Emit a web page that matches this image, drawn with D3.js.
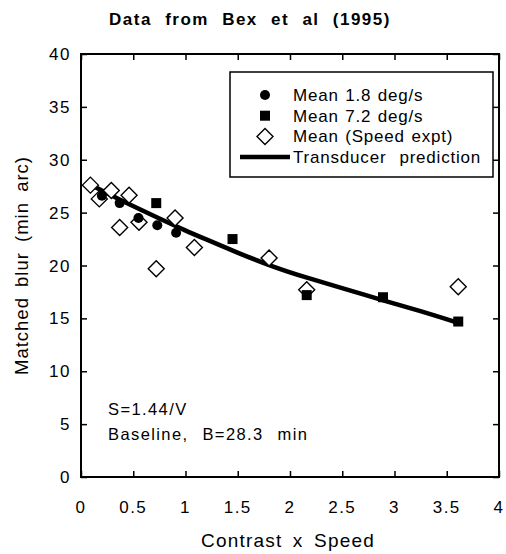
<!DOCTYPE html>
<html>
<head>
<meta charset="utf-8">
<script src="https://cdn.jsdelivr.net/npm/d3@7"></script>
<style>
  body { margin: 0; background: #fff; }
  text { font-family: "Liberation Sans", Arial, sans-serif; fill: #000; white-space: pre; }
</style>
</head>
<body>
<div id="chart"></div>
<script>
// Mean 1.8 deg/s (filled circles)
const slowX = [0.2, 0.37, 0.55, 0.73, 0.91];
const slowY = [26.6, 25.9, 24.5, 23.8, 23.1];

// Mean 7.2 deg/s (filled squares)
const fastX = [0.72, 1.45, 2.16, 2.89, 3.61];
const fastY = [25.9, 22.5, 17.2, 17.0, 14.7];

// Mean (Speed expt) (open diamonds)
const speedX = [0.09, 0.175, 0.29, 0.37, 0.46, 0.555, 0.72, 0.9, 1.085, 1.8, 2.16, 3.61];
const speedY = [27.6, 26.3, 27.1, 23.6, 26.65, 24.1, 19.7, 24.5, 21.7, 20.7, 17.7, 18.0];

// Transducer prediction curve
const predX = [0.06, 0.37, 0.76, 1.0, 1.19, 1.5, 1.83, 2.14, 2.49, 2.89, 3.25, 3.6];
const predY = [27.8, 26.2, 24.4, 23.3, 22.5, 21.2, 19.9, 18.9, 17.9, 16.7, 15.7, 14.6];

const xTicks = [0, 0.5, 1, 1.5, 2, 2.5, 3, 3.5, 4];
const yTicks = [0, 5, 10, 15, 20, 25, 30, 35, 40];

const legendLabels = ['Mean 1.8 deg/s', 'Mean 7.2 deg/s', 'Mean (Speed expt)', 'Transducer  prediction'];

const width = 506, height = 554;
const margin = { top: 54, right: 7, bottom: 77, left: 81 };

const svg = d3.select('#chart')
  .append('svg')
    .attr('width', width)
    .attr('height', height);

const x = d3.scaleLinear().domain([0, 4]).range([margin.left, width - margin.right]);
const y = d3.scaleLinear().domain([0, 40]).range([height - margin.bottom, margin.top]);

const tickLen = 6;

// frame
svg.append('rect')
  .attr('x', x(0))
  .attr('y', y(40))
  .attr('width', x(4) - x(0))
  .attr('height', y(0) - y(40))
  .attr('fill', 'none')
  .attr('stroke', '#000')
  .attr('stroke-width', 2);

// ticks on all four sides, pointing inward
const bottomAxis = d3.axisTop(x).tickValues(xTicks).tickSize(tickLen).tickFormat('');
const topAxis = d3.axisBottom(x).tickValues(xTicks).tickSize(tickLen).tickFormat('');
const leftAxis = d3.axisRight(y).tickValues(yTicks).tickSize(tickLen).tickFormat('');
const rightAxis = d3.axisLeft(y).tickValues(yTicks).tickSize(tickLen).tickFormat('');

[[bottomAxis, `translate(0,${y(0)})`], [topAxis, `translate(0,${y(40)})`],
 [leftAxis, `translate(${x(0)},0)`], [rightAxis, `translate(${x(4)},0)`]].forEach(([ax, tr]) => {
  const g = svg.append('g').attr('transform', tr).call(ax);
  g.select('.domain').remove();
  g.selectAll('line').attr('stroke', '#000').attr('stroke-width', 1.5);
});

// tick labels
svg.append('g').selectAll('text')
  .data(xTicks)
  .enter().append('text')
    .attr('x', d => x(d))
    .attr('y', y(0) + 36)
    .attr('text-anchor', 'middle')
    .attr('font-size', 17)
    .attr('letter-spacing', 1.5)
    .text(d => d);

svg.append('g').selectAll('text')
  .data(yTicks)
  .enter().append('text')
    .attr('x', x(0) - 10)
    .attr('y', d => y(d) + 6)
    .attr('text-anchor', 'end')
    .attr('font-size', 17)
    .attr('letter-spacing', 1.5)
    .text(d => d);

// titles
svg.append('text')
  .attr('x', 250)
  .attr('y', 25)
  .attr('text-anchor', 'middle')
  .attr('font-size', 17)
  .attr('font-weight', 'bold')
  .attr('letter-spacing', 1.5)
  .attr('word-spacing', 7)
  .text('Data from Bex et al (1995)');

svg.append('text')
  .attr('x', 288)
  .attr('y', 547)
  .attr('text-anchor', 'middle')
  .attr('font-size', 19)
  .attr('letter-spacing', 1.2)
  .attr('word-spacing', 4)
  .text('Contrast x Speed');

svg.append('text')
  .attr('transform', `translate(28,${(y(0) + y(40)) / 2}) rotate(-90)`)
  .attr('text-anchor', 'middle')
  .attr('font-size', 18.5)
  .attr('letter-spacing', 1)
  .attr('word-spacing', 4)
  .text('Matched blur (min arc)');

// prediction curve
const line = d3.line()
  .x(d => x(d[0]))
  .y(d => y(d[1]))
  .curve(d3.curveBasis);

svg.append('path')
  .datum(d3.zip(predX, predY))
  .attr('d', line)
  .attr('fill', 'none')
  .attr('stroke', '#000')
  .attr('stroke-width', 4.5);

// markers
const diamond = (cx, cy, r) => `M${cx},${cy - r}L${cx + r},${cy}L${cx},${cy + r}L${cx - r},${cy}Z`;

svg.append('g').selectAll('path')
  .data(d3.zip(speedX, speedY))
  .enter().append('path')
    .attr('d', d => diamond(x(d[0]), y(d[1]), 8))
    .attr('fill', '#fff')
    .attr('stroke', '#000')
    .attr('stroke-width', 1.4);

svg.append('g').selectAll('circle')
  .data(d3.zip(slowX, slowY))
  .enter().append('circle')
    .attr('cx', d => x(d[0]))
    .attr('cy', d => y(d[1]))
    .attr('r', 5)
    .attr('fill', '#000');

svg.append('g').selectAll('rect')
  .data(d3.zip(fastX, fastY))
  .enter().append('rect')
    .attr('x', d => x(d[0]) - 5)
    .attr('y', d => y(d[1]) - 5)
    .attr('width', 10)
    .attr('height', 10)
    .attr('fill', '#000');

// legend
const legend = svg.append('g').attr('transform', 'translate(230,72)');

legend.append('rect')
  .attr('width', 263)
  .attr('height', 105)
  .attr('fill', '#fff')
  .attr('stroke', '#000')
  .attr('stroke-width', 1.5);

const rowY = i => 23 + i * 20.7;

legend.append('circle').attr('cx', 35).attr('cy', rowY(0)).attr('r', 5).attr('fill', '#000');
legend.append('rect').attr('x', 30).attr('y', rowY(1) - 5).attr('width', 10).attr('height', 10).attr('fill', '#000');
legend.append('path').attr('d', diamond(35, rowY(2), 8)).attr('fill', '#fff').attr('stroke', '#000').attr('stroke-width', 1.4);
legend.append('line').attr('x1', 10).attr('x2', 60).attr('y1', rowY(3)).attr('y2', rowY(3))
  .attr('stroke', '#000').attr('stroke-width', 4.5);

legend.selectAll('text.lab')
  .data(legendLabels)
  .enter().append('text')
    .attr('class', 'lab')
    .attr('x', 63)
    .attr('y', (d, i) => rowY(i) + 6)
    .attr('font-size', 17)
    .attr('letter-spacing', 0.8)
    .attr('word-spacing', 1)
    .text(d => d);

// annotation
svg.append('text')
  .attr('x', 108)
  .attr('y', 415)
  .attr('font-size', 16.5)
  .attr('letter-spacing', 1.4)
  .text('S=1.44/V');

svg.append('text')
  .attr('x', 108)
  .attr('y', 440)
  .attr('font-size', 16.5)
  .attr('letter-spacing', 1.4)
  .attr('word-spacing', 1)
  .text('Baseline,  B=28.3  min');
</script>
</body>
</html>
